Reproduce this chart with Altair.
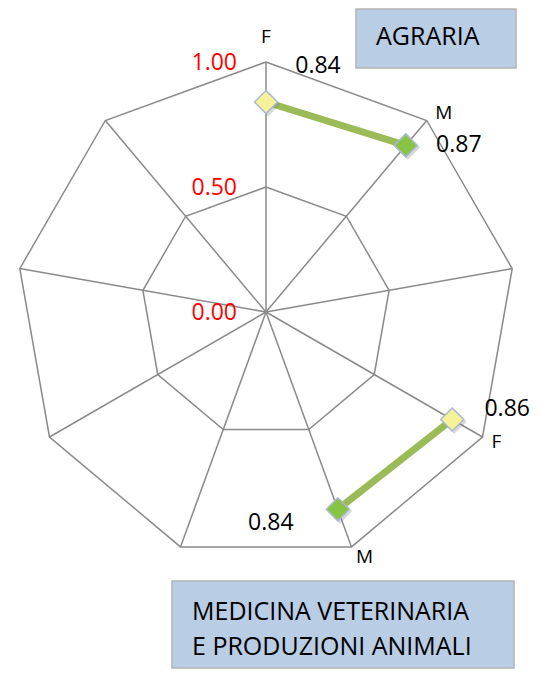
import math
import altair as alt
import pandas as pd

# ---- data ----
spoke_labels = ["F", "M", "", "F", "M", "", "", "", ""]
agraria = [0.84, 0.87, None, None, None, None, None, None, None]
medvet = [None, None, None, 0.86, 0.84, None, None, None, None]
ring_values = [0.5, 1.0]
tick_values = [0.0, 0.5, 1.0]
tick_labels = ["0.00", "0.50", "1.00"]
box_titles = ["AGRARIA", "MEDICINA VETERINARIA", "E PRODUZIONI ANIMALI"]

N = len(spoke_labels)
W, H = 523, 661
XDOM = [-1.032, 1.06]
YDOM = [-1.428, 1.216]
FONT = "Open Sans"
GRID = "#8a8a8a"


def polar(i, r):
    a = 2 * math.pi * i / N
    return r * math.sin(a), r * math.cos(a)


xs = alt.Scale(domain=XDOM, nice=False, zero=False)
ys = alt.Scale(domain=YDOM, nice=False, zero=False)


def X(f="x"):
    return alt.X(f"{f}:Q", scale=xs, axis=None)


def Y(f="y"):
    return alt.Y(f"{f}:Q", scale=ys, axis=None)


# rings
ring_rows = []
for r in ring_values:
    for k in range(N + 1):
        px, py = polar(k % N, r)
        ring_rows.append({"ring": str(r), "k": k, "x": px, "y": py})
rings = alt.Chart(pd.DataFrame(ring_rows)).mark_line(
    color=GRID, strokeWidth=1.5
).encode(x=X(), y=Y(), detail="ring:N", order="k:Q")

# spokes
spoke_rows = []
for i in range(N):
    px, py = polar(i, 1.0)
    spoke_rows.append({"x": 0.0, "y": 0.0, "x2": px, "y2": py})
spokes = alt.Chart(pd.DataFrame(spoke_rows)).mark_rule(
    color=GRID, strokeWidth=1.5
).encode(x=X(), y=Y(), x2="x2:Q", y2="y2:Q")

# series points
pt_rows = []
for name, series in [("AGRARIA", agraria), ("MEDVET", medvet)]:
    for i, v in enumerate(series):
        if v is None:
            continue
        px, py = polar(i, v)
        pt_rows.append({"group": name, "i": i, "sex": spoke_labels[i],
                        "v": v, "x": px, "y": py})
pts = pd.DataFrame(pt_rows)

lines = alt.Chart(pts).mark_line(color="#9bbb59", strokeWidth=7).encode(
    x=X(), y=Y(), detail="group:N", order="i:Q")

shadow = alt.Chart(pts).mark_point(
    shape="diamond", size=620, filled=True, color="#7f7f7f", opacity=0.3,
    xOffset=2, yOffset=2
).encode(x=X(), y=Y())

markers = alt.Chart(pts).mark_point(
    shape="diamond", size=530, filled=True, stroke="#a9b9d0", strokeWidth=1.5,
    opacity=1
).encode(
    x=X(), y=Y(),
    fill=alt.Fill("sex:N", scale=alt.Scale(domain=["F", "M"],
                                           range=["#f6f29a", "#86c442"]),
                  legend=None),
)

layers = [rings, spokes, lines, shadow, markers]

# category labels (offsets from vertex)
cat_offsets = {0: (0, -25), 1: (17, -7), 3: (14, 5), 4: (13, 10)}
for i, (dx, dy) in cat_offsets.items():
    px, py = polar(i, 1.0)
    layers.append(
        alt.Chart(pd.DataFrame([{"x": px, "y": py, "t": spoke_labels[i]}]))
        .mark_text(font=FONT, fontSize=19, color="#000000", dx=dx, dy=dy,
                   baseline="middle", align="center")
        .encode(x=X(), y=Y(), text="t:N")
    )

# value labels (offsets from data point)
val_offsets = {("AGRARIA", 0): (52, -36), ("AGRARIA", 1): (53, 0),
               ("MEDVET", 3): (55, -11), ("MEDVET", 4): (-67, 14)}
for _, row in pts.iterrows():
    dx, dy = val_offsets[(row["group"], row["i"])]
    layers.append(
        alt.Chart(pd.DataFrame([{"x": row["x"], "y": row["y"],
                                 "t": f"{row['v']:.2f}"}]))
        .mark_text(font=FONT, fontSize=23, color="#000000", dx=dx, dy=dy,
                   baseline="middle", align="center")
        .encode(x=X(), y=Y(), text="t:N")
    )

# radial tick labels (red)
tick_df = pd.DataFrame({"x": [0.0] * len(tick_values), "y": tick_values,
                        "t": tick_labels})
layers.append(
    alt.Chart(tick_df).mark_text(font=FONT, fontSize=23, color="#ff0000",
                                 align="right", baseline="middle", dx=-29, dy=1)
    .encode(x=X(), y=Y(), text="t:N")
)

# title boxes
box_style = dict(fill="#b9cde5", stroke="#b4b4b4", strokeWidth=1.5)
layers.append(
    alt.Chart(pd.DataFrame([{"a": 1}])).mark_rect(**box_style).encode(
        x=alt.value(348), x2=alt.value(508), y=alt.value(1), y2=alt.value(60))
)
layers.append(
    alt.Chart(pd.DataFrame([{"a": 1}])).mark_rect(**box_style).encode(
        x=alt.value(164), x2=alt.value(506), y=alt.value(573), y2=alt.value(660))
)
layers.append(
    alt.Chart(pd.DataFrame([{"t": box_titles[0]}])).mark_text(
        font=FONT, fontSize=25, color="#000000", align="left",
        baseline="alphabetic").encode(x=alt.value(368), y=alt.value(37),
                                      text="t:N")
)
layers.append(
    alt.Chart(pd.DataFrame([{"t": box_titles[1]}])).mark_text(
        font=FONT, fontSize=25, color="#000000", align="left",
        baseline="alphabetic").encode(x=alt.value(184), y=alt.value(612),
                                      text="t:N")
)
layers.append(
    alt.Chart(pd.DataFrame([{"t": box_titles[2]}])).mark_text(
        font=FONT, fontSize=25, color="#000000", align="left",
        baseline="alphabetic").encode(x=alt.value(184), y=alt.value(647),
                                      text="t:N")
)

chart = alt.layer(*layers).properties(
    width=W, height=H, padding=0, background="#ffffff",
    autosize=alt.AutoSizeParams(type="none"),
).configure_view(stroke=None)

chart.save("out.html", embed_options={"renderer": "svg", "actions": False})
